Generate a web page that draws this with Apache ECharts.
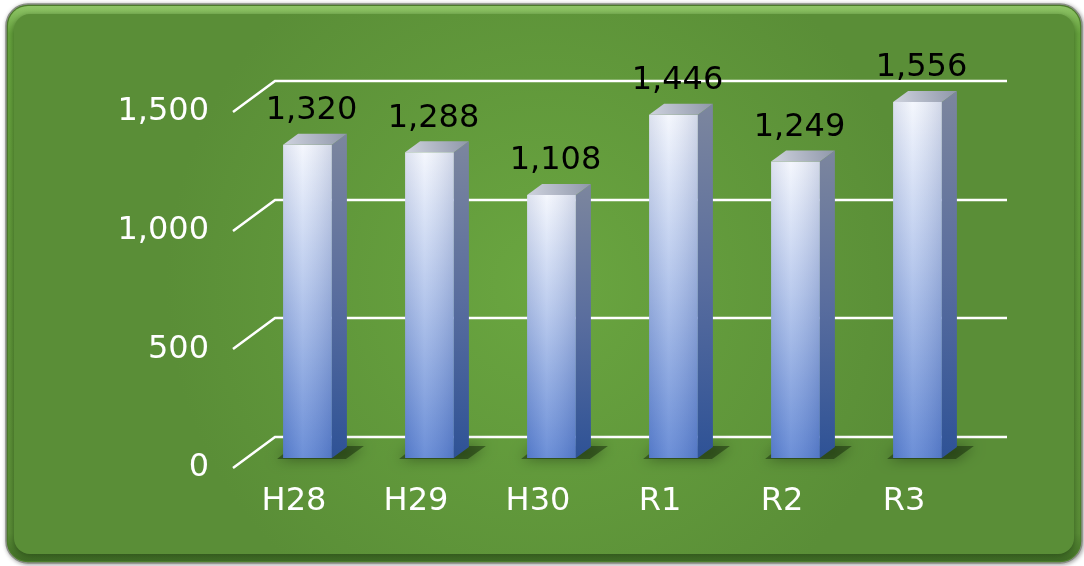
<!DOCTYPE html>
<html>
<head>
<meta charset="utf-8">
<script src="https://cdn.jsdelivr.net/npm/echarts@6/dist/echarts.min.js"></script>
<style>html,body{margin:0;padding:0;background:#fff;}#c{width:1084px;height:566px;}</style>
</head>
<body>
<div id="c"></div>
<script>
var categories = ['H28', 'H29', 'H30', 'R1', 'R2', 'R3'];
var values = [1320, 1288, 1108, 1446, 1249, 1556];
var yTicks = [0, 500, 1000, 1500];
var yMax = 1500;

var FONT = 'DejaVu Sans';
var FSIZE = 32;
var WALL = [42, -31];     // depth of floor / back wall
var PLANE = [13.5, -10];  // bar front plane offset from front edge
var DEPTH = [15, -11];    // bar depth

var chart = echarts.init(document.getElementById('c'), null, {renderer: 'canvas'});

function gridLines(params, api) {
  var cs = params.coordSys;
  var p = api.coord([0, api.value(1)]);
  var y = Math.round(p[1]);
  var x0 = cs.x;
  return {
    type: 'polyline',
    shape: {points: [[x0, y], [x0 + WALL[0], y + WALL[1]], [x0 + WALL[0] + cs.width, y + WALL[1]]]},
    style: {stroke: '#ffffff', lineWidth: 2.5, fill: null}
  };
}

function barShadow(params, api) {
  var i = api.value(0);
  var c0 = api.coord([i, 0]);
  var bw = api.size([1, 0])[0] * 0.4;
  var cx = c0[0] + PLANE[0];
  var yb = c0[1] + PLANE[1];
  var xl = cx - bw / 2, xr = cx + bw / 2;
  return {
    type: 'polygon',
    shape: {points: [[xl - 6, yb + 1], [xr + 14, yb + 1], [xr + 32, yb - 12], [xl + 10, yb - 12]]},
    style: {fill: 'rgba(20,40,10,0.5)', shadowBlur: 14, shadowColor: 'rgba(0,0,0,0.8)'}
  };
}

function bar3d(params, api) {
  var i = api.value(0);
  var v = api.value(1);
  var c = api.coord([i, Math.min(v, yMax)]);
  var c0 = api.coord([i, 0]);
  var bw = api.size([1, 0])[0] * 0.4;
  var cx = c[0] + PLANE[0];
  var yt = c[1] + PLANE[1];
  var yb = c0[1] + PLANE[1];
  var xl = cx - bw / 2, xr = cx + bw / 2;
  var dx = DEPTH[0], dy = DEPTH[1];
  return {
    type: 'group',
    children: [
      {
        type: 'rect',
        shape: {x: xl, y: yt, width: bw, height: yb - yt},
        style: {fill: new echarts.graphic.LinearGradient(0, 0, 0, 1, [
          {offset: 0, color: '#f3f6fd'},
          {offset: 0.45, color: '#b0c3eb'},
          {offset: 1, color: '#5880d2'}
        ])}
      },
      {
        type: 'rect',
        shape: {x: xl, y: yt, width: bw, height: yb - yt},
        style: {fill: new echarts.graphic.LinearGradient(0, 0, 1, 0, [
          {offset: 0, color: 'rgba(50,70,130,0.12)'},
          {offset: 0.4, color: 'rgba(255,255,255,0.12)'},
          {offset: 1, color: 'rgba(50,70,130,0.18)'}
        ])}
      },
      {
        type: 'polygon',
        shape: {points: [[xr, yt], [xr + dx, yt + dy], [xr + dx, yb + dy], [xr, yb]]},
        style: {fill: new echarts.graphic.LinearGradient(0, 0, 0, 1, [
          {offset: 0, color: '#7c869e'},
          {offset: 0.5, color: '#596d9e'},
          {offset: 1, color: '#2e5296'}
        ])}
      },
      {
        type: 'polygon',
        shape: {points: [[xl, yt], [xl + dx, yt + dy], [xr + dx, yt + dy], [xr, yt]]},
        style: {fill: new echarts.graphic.LinearGradient(0, 1, 1, 0, [
          {offset: 0, color: '#cfd3de'},
          {offset: 1, color: '#8f97aa'}
        ])}
      },
      {
        type: 'text',
        style: {
          text: echarts.format.addCommas(v),
          x: cx + 4, y: yt + dy - 7,
          align: 'center', verticalAlign: 'bottom',
          fill: '#000000', font: FSIZE + 'px "' + FONT + '"'
        }
      }
    ]
  };
}

var option = {
  animation: false,
  backgroundColor: '#ffffff',
  graphic: [
    {
      type: 'rect', silent: true, z: -10,
      shape: {x: 6, y: 4, width: 1076, height: 559, r: 22},
      style: {fill: '#53862f', stroke: '#8a8f86', lineWidth: 1.5,
        shadowBlur: 4, shadowColor: 'rgba(0,0,0,0.35)', shadowOffsetX: 1, shadowOffsetY: 1}
    },
    {
      type: 'rect', silent: true, z: -9,
      shape: {x: 8, y: 6, width: 1072, height: 555, r: 20},
      style: {fill: new echarts.graphic.LinearGradient(0, 0, 0, 1, [
        {offset: 0, color: '#8ec466'},
        {offset: 0.05, color: '#66a23d'},
        {offset: 0.95, color: '#5a8d36'},
        {offset: 1, color: '#3e6a25'}
      ])}
    },
    {
      type: 'rect', silent: true, z: -8,
      shape: {x: 14, y: 14, width: 1060, height: 540, r: 16},
      style: {fill: new echarts.graphic.RadialGradient(0.5, 0.5, 0.7, [
        {offset: 0, color: '#6aa640'},
        {offset: 1, color: '#5a8e37'}
      ]), shadowBlur: 6, shadowColor: 'rgba(30,60,15,0.6)', shadowOffsetY: 2}
    }
  ],
  grid: {left: 233, right: 119, top: 112, bottom: 98, containLabel: false},
  xAxis: {
    type: 'category',
    data: categories,
    axisLine: {show: false},
    axisTick: {show: false},
    splitLine: {show: false},
    axisLabel: {color: '#ffffff', fontSize: FSIZE, fontFamily: FONT, margin: 18}
  },
  yAxis: {
    type: 'value',
    min: 0, max: yMax, interval: 500,
    axisLine: {show: false},
    axisTick: {show: false},
    splitLine: {show: false},
    axisLabel: {color: '#ffffff', fontSize: FSIZE, fontFamily: FONT, margin: 24,
      padding: [9, 0, 0, 0],
      formatter: function (v) { return echarts.format.addCommas(v); }}
  },
  series: [
    {
      type: 'custom', z: 1, silent: true, clip: false,
      renderItem: gridLines,
      data: yTicks.map(function (t) { return [0, t]; })
    },
    {
      type: 'custom', z: 2, silent: true, clip: false,
      renderItem: barShadow,
      data: values.map(function (v, i) { return [i, v]; })
    },
    {
      type: 'custom', z: 3, silent: true, clip: false,
      renderItem: bar3d,
      data: values.map(function (v, i) { return [i, v]; })
    }
  ]
};
chart.setOption(option);
</script>
</body>
</html>
